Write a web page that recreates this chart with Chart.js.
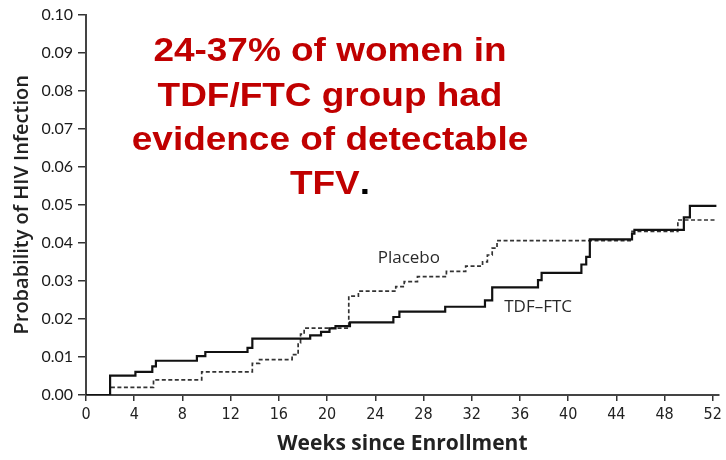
<!DOCTYPE html>
<html>
<head>
<meta charset="utf-8">
<script src="https://cdn.jsdelivr.net/npm/chart.js@4/dist/chart.umd.min.js"></script>
<style>
  html, body { margin: 0; padding: 0; background: #ffffff; }
  #wrap { width: 726px; height: 460px; position: relative; }
</style>
</head>
<body>
<div id="wrap"><canvas id="c" width="726" height="460"></canvas></div>
<script>
// ---- Data (Kaplan–Meier style step curves) ----
const weeksTDF = [0, 2.0, 4.1, 5.5, 5.8, 9.2, 9.9, 13.4, 13.8, 18.6, 19.5, 20.2, 20.7, 21.9, 25.5, 26.0, 29.8, 33.1, 33.7, 37.5, 37.8, 41.1, 41.5, 41.8, 45.3, 45.5, 49.6, 50.1, 52.3];
const probTDF  = [0, 0.0051, 0.0061, 0.0075, 0.0090, 0.0102, 0.0113, 0.0124, 0.0148, 0.0157, 0.0166, 0.0175, 0.0181, 0.0191, 0.0205, 0.0219, 0.0232, 0.0249, 0.0283, 0.0302, 0.0321, 0.0343, 0.0363, 0.0409, 0.0424, 0.0434, 0.0467, 0.0497, 0.0497];

const weeksPlacebo = [0, 2.0, 5.6, 9.6, 13.8, 14.4, 17.1, 17.6, 17.8, 18.1, 21.8, 22.6, 25.7, 26.4, 27.5, 29.9, 31.5, 32.9, 33.3, 33.7, 34.1, 45.3, 49.1, 52.3];
const probPlacebo  = [0, 0.0020, 0.0040, 0.0061, 0.0083, 0.0093, 0.0106, 0.0137, 0.0160, 0.0176, 0.0260, 0.0273, 0.0285, 0.0298, 0.0311, 0.0325, 0.0339, 0.0350, 0.0368, 0.0386, 0.0406, 0.0430, 0.0460, 0.0460];

const seriesNames = ['Placebo', 'TDF\u2013FTC'];
const xTickValues = [0, 4, 8, 12, 16, 20, 24, 28, 32, 36, 40, 44, 48, 52];
const yTickValues = [0, 0.01, 0.02, 0.03, 0.04, 0.05, 0.06, 0.07, 0.08, 0.09, 0.10];
const yTickLabels = ['0.00', '0.01', '0.02', '0.03', '0.04', '0.05', '0.06', '0.07', '0.08', '0.09', '0.10'];
const xTitle = 'Weeks since Enrollment';
const yTitle = 'Probability of HIV Infection';
const noteLines = ['24-37% of women in', 'TDF/FTC group had', 'evidence of detectable', 'TFV'];
const noteTail = '.';

// ---- build datasets from arrays ----
const toPoints = (xs, ys) => xs.map((x, i) => ({ x: x, y: ys[i] }));

const annotate = {
  id: 'annotate',
  afterDraw(chart) {
    const ctx = chart.ctx;
    const xs = chart.scales.x, ys = chart.scales.y;
    ctx.save();
    // curve labels, anchored through the scales
    ctx.fillStyle = '#2a2a2a';
    ctx.font = '17px "Open Sans", sans-serif';
    ctx.textAlign = 'left';
    ctx.textBaseline = 'alphabetic';
    ctx.fillText(seriesNames[0], xs.getPixelForValue(24.2), ys.getPixelForValue(0.0347));
    ctx.fillText(seriesNames[1], xs.getPixelForValue(34.7), ys.getPixelForValue(0.0219));

    // red call-out text (slightly widened, as in the reference)
    const cx = 330, baselines = [60.7, 106, 150, 193.5], sx = 1.12;
    ctx.font = 'bold 33px "Liberation Sans", Arial, sans-serif';
    noteLines.forEach((line, i) => {
      ctx.save();
      ctx.translate(cx, baselines[i]);
      ctx.scale(sx, 1);
      if (i === noteLines.length - 1) {
        const wMain = ctx.measureText(line).width;
        const wTail = ctx.measureText(noteTail).width;
        const start = -(wMain + wTail) / 2;
        ctx.textAlign = 'left';
        ctx.fillStyle = '#C00000';
        ctx.fillText(line, start, 0);
        ctx.fillStyle = '#000000';
        ctx.fillText(noteTail, start + wMain, 0);
      } else {
        ctx.textAlign = 'center';
        ctx.fillStyle = '#C00000';
        ctx.fillText(line, 0, 0);
      }
      ctx.restore();
    });
    ctx.restore();
  }
};

new Chart(document.getElementById('c'), {
  type: 'line',
  data: {
    datasets: [
      {
        label: seriesNames[1],
        data: toPoints(weeksTDF, probTDF),
        stepped: 'before',
        borderColor: '#111111',
        borderWidth: 2.2,
        pointRadius: 0,
        fill: false
      },
      {
        label: seriesNames[0],
        data: toPoints(weeksPlacebo, probPlacebo),
        stepped: 'before',
        borderColor: '#333333',
        borderWidth: 1.7,
        borderDash: [4, 2.5],
        pointRadius: 0,
        fill: false
      }
    ]
  },
  options: {
    responsive: false,
    animation: false,
    events: [],
    layout: { padding: { top: 14, right: 7, left: 0, bottom: 0 } },
    plugins: { legend: { display: false }, tooltip: { enabled: false } },
    scales: {
      x: {
        type: 'linear',
        min: 0,
        max: 52.5,
        afterFit: (s) => { s.height = 65; },
        afterBuildTicks: (s) => { s.ticks = xTickValues.map(v => ({ value: v })); },
        grid: { display: true, drawOnChartArea: false, drawTicks: true, tickLength: 6, color: '#333333', lineWidth: 1.5 },
        border: { display: true, color: '#444444', width: 2 },
        ticks: {
          autoSkip: false,
          maxRotation: 0,
          padding: 4,
          color: '#222222',
          font: { family: '"DejaVu Sans Condensed", "DejaVu Sans", sans-serif', size: 16 },
          callback: (v) => String(v)
        },
        title: {
          display: true,
          text: xTitle,
          color: '#222222',
          font: { family: '"Open Sans", sans-serif', weight: 'bold', size: 21 },
          padding: { top: 0, bottom: 3 }
        }
      },
      y: {
        type: 'linear',
        min: 0,
        max: 0.1,
        afterFit: (s) => { s.width = 86; },
        afterBuildTicks: (s) => { s.ticks = yTickValues.map(v => ({ value: v })); },
        grid: { display: true, drawOnChartArea: false, drawTicks: true, tickLength: 8, color: '#333333', lineWidth: 1.5 },
        border: { display: true, color: '#444444', width: 2 },
        ticks: {
          autoSkip: false,
          padding: 5,
          color: '#1a1a1a',
          font: { family: 'Lato, sans-serif', size: 16 },
          callback: (v) => { const i = yTickValues.findIndex(t => Math.abs(t - v) < 1e-9); return i >= 0 ? yTickLabels[i] : ''; }
        },
        title: {
          display: true,
          text: yTitle,
          color: '#222222',
          font: { family: '"Open Sans", sans-serif', weight: '600', size: 20 },
          padding: { top: 10, bottom: 0 }
        }
      }
    }
  },
  plugins: [annotate]
});
</script>
</body>
</html>
